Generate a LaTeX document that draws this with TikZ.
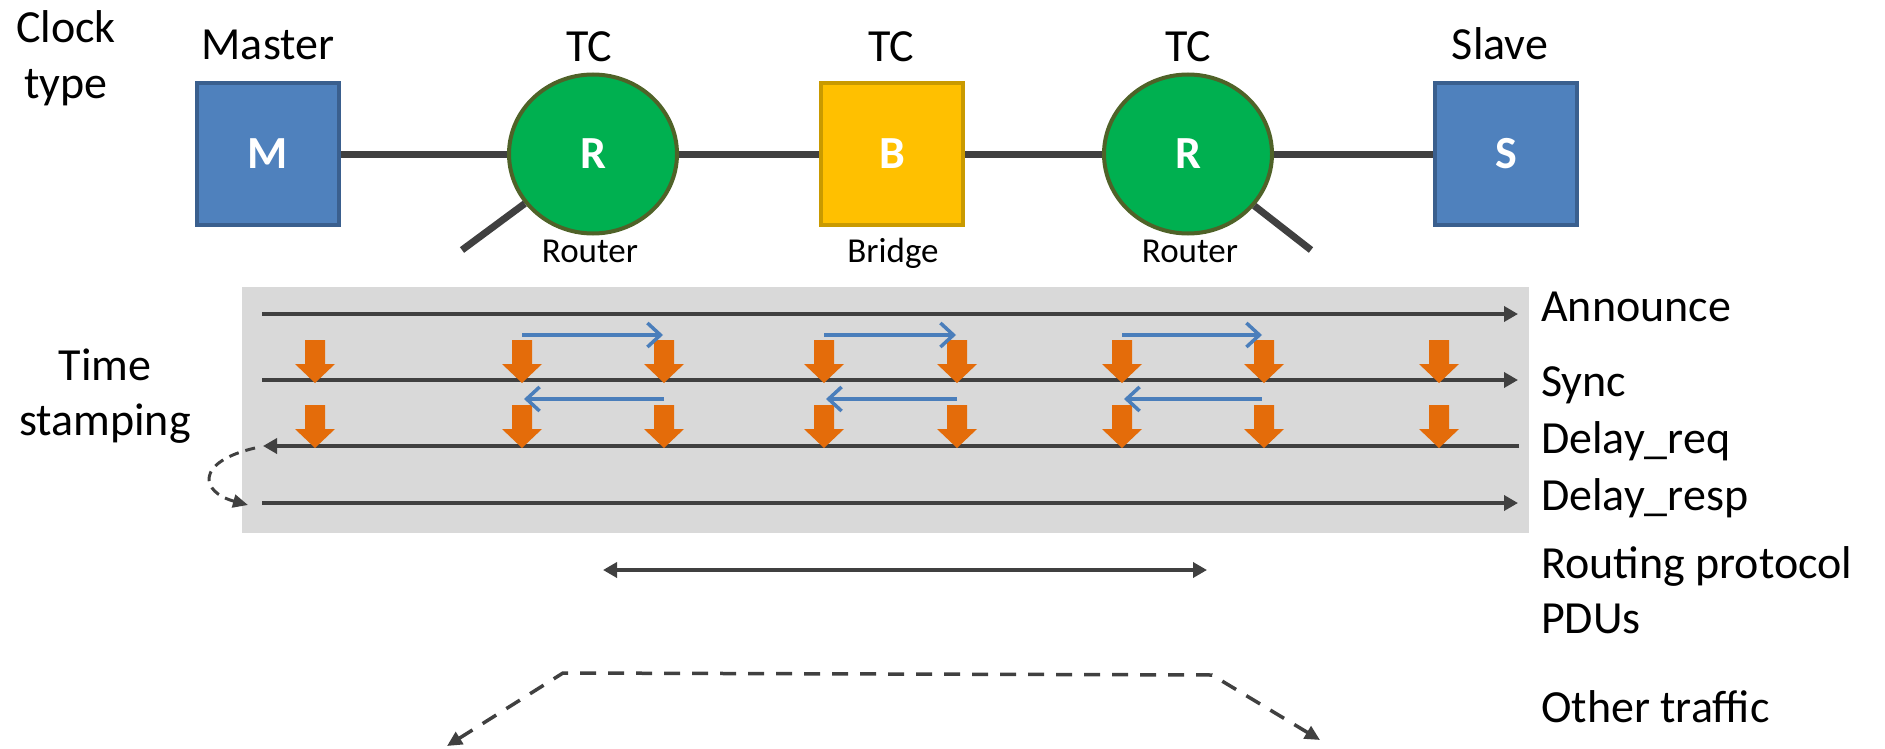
\documentclass[tikz,border=0pt]{standalone}
\usepackage{fontspec}
\setmainfont{Carlito}
\usetikzlibrary{shapes.geometric,arrows.meta}
\definecolor{boxblue}{HTML}{4F81BD}
\definecolor{boxblueb}{HTML}{3A5F8E}
\definecolor{rgreen}{HTML}{00B050}
\definecolor{rgreenb}{HTML}{4F6228}
\definecolor{bgold}{HTML}{FFC000}
\definecolor{bgoldb}{HTML}{C99A00}
\definecolor{dk}{HTML}{404040}
\definecolor{bggray}{HTML}{D9D9D9}
\definecolor{tsorange}{HTML}{E46C0A}
\definecolor{msgblue}{HTML}{4A7EBB}
\tikzset{
  tsarrow/.pic={\fill[tsorange] (-10,-43) -- (10,-43) -- (10,-19) -- (20,-19) -- (0,0) -- (-20,-19) -- (-10,-19) -- cycle;}
}
\begin{document}
\begin{tikzpicture}[x=1bp,y=-1bp,
  big/.style={font=\fontsize{46bp}{55bp}\selectfont, inner sep=0pt},
  small/.style={font=\fontsize{35bp}{42bp}\selectfont, inner sep=0pt},
  letter/.style={font=\fontsize{46bp}{56bp}\selectfont\bfseries, text=white, inner sep=0pt},
  clocksq/.style={letter, draw=boxblueb, fill=boxblue, line width=4bp, minimum width=142bp, minimum height=142bp},
  bridgesq/.style={letter, draw=bgoldb, fill=bgold, line width=4bp, minimum width=142bp, minimum height=142bp},
  router/.style={letter, ellipse, draw=rgreenb, fill=rgreen, line width=4bp, minimum width=168bp, minimum height=159bp},
  link/.style={draw=dk, line width=7bp},
  tline/.style={draw=dk, line width=3.5bp},
  tarrow/.style={tline, -{Triangle[length=14bp,width=15bp]}},
  msg/.style={draw=msgblue, line width=3.5bp, -{Straight Barb[length=13bp,width=24bp]}},
  dashy/.style={draw=dk, line width=3.5bp, dash pattern=on 16bp off 12bp},
]
\useasboundingbox (0,0) rectangle (1885,749);

% top row
\node[clocksq] (M) at (268,154) {M};
\node[router] (R1) at (593,154) {R};
\node[bridgesq] (B) at (892,154) {B};
\node[router] (R2) at (1188,154) {R};
\node[clocksq] (S) at (1506,154) {S};

\draw[link] (M.east) -- (R1.west);
\draw[link] (R1.east) -- (B.west);
\draw[link] (B.east) -- (R2.west);
\draw[link] (R2.east) -- (S.west);
\coordinate (st1) at (462,250);
\coordinate (st2) at (1311,250);
\draw[link] (R1.216) -- (st1);
\draw[link] (R2.322) -- (st2);

\node[big, anchor=base] (ct) at (66,43) {\begin{tabular}[t]{@{}c@{}}Clock\\type\end{tabular}};
\node[big, anchor=base] (lm) at (268,60) {Master};
\node[big, anchor=base] (tc1) at (589,62) {TC};
\node[big, anchor=base] (tc2) at (891,62) {TC};
\node[big, anchor=base] (tc3) at (1188,62) {TC};
\node[big, anchor=base] (ls) at (1500,60) {Slave};
\node[small, anchor=base] (lr1) at (590,262) {Router};
\node[small, anchor=base] (lb) at (893,262) {Bridge};
\node[small, anchor=base] (lr2) at (1190,262) {Router};

% time stamping panel
\node[fill=bggray, minimum width=1287bp, minimum height=246bp, inner sep=0pt] (panel) at (885.5,410) {};
\node[big, anchor=base] (ts) at (105,380) {\begin{tabular}[t]{@{}c@{}}Time\\stamping\end{tabular}};

\coordinate (a0) at (262,314); \coordinate (a1) at (1518,314);
\coordinate (s0) at (262,380); \coordinate (s1) at (1518,380);
\coordinate (q0) at (263,446); \coordinate (q1) at (1519,446);
\coordinate (p0) at (262,503); \coordinate (p1) at (1518,503);
\draw[tarrow] (a0) -- (a1);
\draw[tarrow] (s0) -- (s1);
\draw[tarrow] (q1) -- (q0);
\draw[tarrow] (p0) -- (p1);

\foreach \x in {315,522,664,824,957,1122,1264,1439}{
  \pic at (\x,383) {tsarrow};
  \pic at (\x,448) {tsarrow};
}

\foreach \xa/\xb in {522/663,824/956,1122/1262}{
  \coordinate (m1) at (\xa,335); \coordinate (m2) at (\xb,335);
  \draw[msg] (m1) -- (m2);
}
\foreach \xa/\xb in {664/524,957/826,1262/1124}{
  \coordinate (m1) at (\xa,399); \coordinate (m2) at (\xb,399);
  \draw[msg] (m1) -- (m2);
}

\coordinate (dq) at (255,448);
\coordinate (dp) at (248,505);
\draw[draw=dk, line width=3bp, dash pattern=on 10bp off 7bp, -{Triangle[length=15bp,width=13bp]}]
  (dq) .. controls (195,462) and (200,492) .. (dp);

\node[big, anchor=base west] (lan) at (1541,321) {Announce};
\node[big, anchor=base west] (lsy) at (1541,396) {Sync};
\node[big, anchor=base west] (ldq) at (1541,453) {Delay\_req};
\node[big, anchor=base west] (ldp) at (1541,510) {Delay\_resp};
\node[big, anchor=base west] (lrp) at (1541,578) {\begin{tabular}[t]{@{}l@{}}Routing protocol\\PDUs\end{tabular}};
\node[big, anchor=base west] (lot) at (1541,722) {Other traffic};

% routing protocol PDUs
\coordinate (r0) at (603,570); \coordinate (r1) at (1207,570);
\draw[tline, {Triangle[length=14bp,width=15bp]}-{Triangle[length=14bp,width=15bp]}] (r0) -- (r1);

% other traffic
\coordinate (o0) at (447,746);
\coordinate (o1) at (563,673);
\coordinate (o2) at (1212,675);
\coordinate (o3) at (1320,740);
\draw[dashy, {Triangle[length=15bp,width=14bp]}-{Triangle[length=15bp,width=14bp]}] (o0) -- (o1) -- (o2) -- (o3);
\end{tikzpicture}
\end{document}
